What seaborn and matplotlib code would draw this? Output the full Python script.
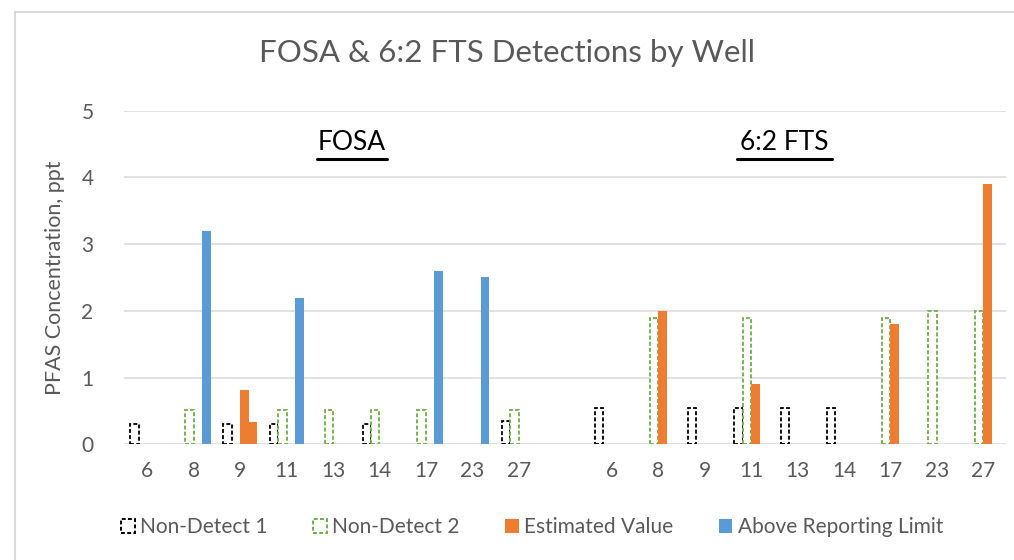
import matplotlib
matplotlib.use('Agg')
import matplotlib.pyplot as plt
import seaborn as sns
import pandas as pd
import numpy as np
from matplotlib.patches import Patch, Rectangle
from matplotlib.lines import Line2D

# wells sampled for each compound
wells = ["6", "8", "9", "11", "13", "14", "17", "23", "27"]
series_names = ["Non-Detect 1", "Non-Detect 2", "Estimated Value", "Above Reporting Limit"]

# FOSA results (None = no bar)
fosa_nd1 = [0.3, None, 0.3, 0.3, None, 0.3, None, None, 0.35]
fosa_nd2 = [None, 0.52, None, 0.52, 0.52, 0.52, 0.52, None, 0.52]
fosa_est = [None, None, 0.82, None, None, None, None, None, None]
fosa_arl = [None, 3.2, 0.34, 2.2, None, None, 2.6, 2.5, None]

# 6:2 FTS results
fts_nd1 = [0.55, None, 0.55, 0.55, 0.55, 0.55, None, None, None]
fts_nd2 = [None, 1.9, None, 1.9, None, None, 1.9, 2.0, 2.0]
fts_est = [None, 2.0, None, 0.9, None, None, 1.8, None, 3.9]
fts_arl = [None, None, None, None, None, None, None, None, None]

# the ARL bar at FOSA well 9 is shown in orange in the original
recolor = [("Above Reporting Limit", "FOSA 9", "#ED7D31")]

colors = {"Non-Detect 1": "#000000", "Non-Detect 2": "#70AD47",
          "Estimated Value": "#ED7D31", "Above Reporting Limit": "#5B9BD5"}
text_gray = "#595959"
grid_gray = "#D9D9D9"

rows = []
for prefix, groups in [("FOSA", [fosa_nd1, fosa_nd2, fosa_est, fosa_arl]),
                       ("FTS", [fts_nd1, fts_nd2, fts_est, fts_arl])]:
    for name, vals in zip(series_names, groups):
        for w, v in zip(wells, vals):
            if v is not None:
                rows.append({"well": f"{prefix} {w}", "series": name, "value": v})
df = pd.DataFrame(rows)

order = [f"FOSA {w}" for w in wells] + ["gap"] + [f"FTS {w}" for w in wells]
tick_labels = wells + [""] + wells

sns.set_theme(style="white")
plt.rcParams['font.family'] = ['Lato', 'DejaVu Sans']

fig = plt.figure(figsize=(10.14, 5.6), dpi=100)
ax = fig.add_axes([124 / 1014, 1 - 444.3 / 560, (1006.5 - 124) / 1014, (444.3 - 110.7) / 560])

sns.barplot(data=df, x="well", y="value", hue="series", order=order, hue_order=series_names,
            palette=colors, width=0.73, ax=ax, legend=False, errorbar=None, saturation=1)

for cont, name in zip(ax.containers, series_names):
    for bar in cont.patches:
        if name.startswith("Non-Detect"):
            bar.set_facecolor("white")
            bar.set_edgecolor(colors[name])
            bar.set_linestyle((0, (2.2, 1.2)))
            bar.set_linewidth(1.3)
        else:
            bar.set_edgecolor("none")
        for s, key, c in recolor:
            if s == name and round(bar.get_x() + bar.get_width() / 2) == order.index(key):
                bar.set_facecolor(c)

ax.set_ylim(0, 5)
ax.set_yticks(range(6))
ax.set_xlim(-0.5, len(order) - 0.5)
ax.set_xticks(range(len(order)))
ax.set_xticklabels(tick_labels)
ax.yaxis.grid(True, color=grid_gray, linewidth=1.1)
ax.set_axisbelow(True)
for sp in ax.spines.values():
    sp.set_visible(False)
ax.tick_params(axis="both", length=0, labelsize=15, colors=text_gray)
ax.tick_params(axis="y", pad=22)
ax.tick_params(axis="x", pad=12)
ax.set_xlabel("")
ax.set_ylabel("PFAS Concentration, ppt", fontsize=15.5, color=text_gray, labelpad=12)

fig.text(0.5, 1 - 53 / 560, "FOSA & 6:2 FTS Detections by Well", ha="center", va="center",
         fontsize=22.5, color=text_gray)

# group labels, underlined
for label, cx in [("FOSA", 351.7), ("6:2 FTS", 784)]:
    fig.text(cx / 1014, 1 - 150 / 560, label, ha="center", va="baseline", fontsize=19, color="black")
fig.add_artist(Line2D([316.7 / 1014, 386.7 / 1014], [1 - 159 / 560] * 2, color="black", lw=2.2))
fig.add_artist(Line2D([736.7 / 1014, 831.7 / 1014], [1 - 159 / 560] * 2, color="black", lw=2.2))

handles = []
for name in series_names:
    if name.startswith("Non-Detect"):
        handles.append(Patch(facecolor="white", edgecolor=colors[name], linestyle=(0, (2, 1.2)), linewidth=1.4))
    else:
        handles.append(Patch(facecolor=colors[name], edgecolor="none"))
leg = fig.legend(handles, series_names, loc="center", bbox_to_anchor=(532 / 1014, 1 - 527 / 560), ncol=4,
                 frameon=False, fontsize=15, handlelength=0.65, handleheight=0.65, handletextpad=0.25,
                 columnspacing=2.2, labelcolor=text_gray)

# chart area border
fig.add_artist(Rectangle((15 / 1014, -0.1), 1.2, 1 - 12 / 560 + 0.1, transform=fig.transFigure,
                         fill=False, edgecolor=grid_gray, linewidth=1.5))

fig.savefig("out.png", dpi=100)
